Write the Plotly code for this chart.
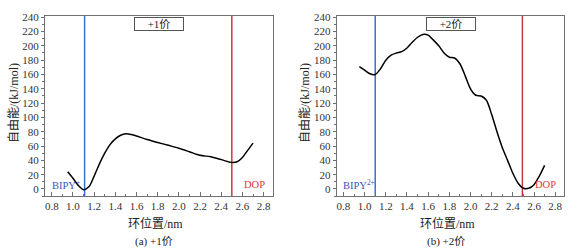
import plotly.graph_objects as go

# ---- data ----
pos1 = [0.95, 1.0, 1.05, 1.1, 1.15, 1.2, 1.25, 1.3, 1.35, 1.4, 1.45, 1.5, 1.55, 1.6,
        1.7, 1.8, 1.9, 2.0, 2.1, 2.2, 2.3, 2.4, 2.5, 2.55, 2.6, 2.65, 2.7]
energy1 = [24, 15, 5, -1, 3, 18, 35, 50, 62, 70, 75, 77, 76, 74,
           69, 65, 61, 57, 52, 47, 45, 41, 37, 38, 44, 54, 64]

pos2 = [0.95, 1.0, 1.05, 1.1, 1.15, 1.2, 1.25, 1.3, 1.35, 1.4, 1.45, 1.5, 1.55, 1.6,
        1.65, 1.7, 1.75, 1.8, 1.85, 1.9, 1.95, 2.0, 2.05, 2.1, 2.15, 2.2, 2.25, 2.3,
        2.35, 2.4, 2.45, 2.5, 2.55, 2.6, 2.65, 2.7]
energy2 = [171, 166, 161, 160, 168, 180, 187, 190, 192, 197, 205, 212, 216, 215,
           208, 200, 190, 184, 183, 175, 158, 140, 131, 130, 124, 104, 80, 58,
           40, 22, 8, 1, 1, 6, 18, 33]

bipy_pos = [1.11, 1.10]
dop_pos = [2.50, 2.49]
panel_tags = ["+1价", "+2价"]
captions = ["(a) +1价", "(b) +2价"]
bipy_labels = ["BIPY<sup>+</sup>", "BIPY<sup>2+</sup>"]
dop_label = "DOP"
x_title = "环位置/nm"
y_title = "自由能/(kJ/mol)"
x_ticks = [0.8, 1.0, 1.2, 1.4, 1.6, 1.8, 2.0, 2.2, 2.4, 2.6, 2.8]
y_ticks = [0, 20, 40, 60, 80, 100, 120, 140, 160, 180, 200, 220, 240]

W, H = 582, 252
SERIF = "Liberation Serif, Times New Roman, serif"
CJK = "Liberation Serif, Noto Sans CJK SC, serif"

fig = go.Figure()

domains_x = [[45 / W, 272.7 / W], [336.7 / W, 564.3 / W]]
dom_y = [1 - 195 / H, 1 - 11 / H]

series = [(pos1, energy1), (pos2, energy2)]
for i, (xs, ys) in enumerate(series):
    xa = "x" if i == 0 else "x2"
    ya = "y" if i == 0 else "y2"
    fig.add_trace(go.Scatter(x=[bipy_pos[i], bipy_pos[i]], y=[-10, 242], mode="lines",
                             line=dict(color="#3a6fd8", width=1.5), xaxis=xa, yaxis=ya,
                             showlegend=False, hoverinfo="skip"))
    fig.add_trace(go.Scatter(x=[dop_pos[i], dop_pos[i]], y=[-10, 242], mode="lines",
                             line=dict(color="#c83a3a", width=1.5), xaxis=xa, yaxis=ya,
                             showlegend=False, hoverinfo="skip"))
    fig.add_trace(go.Scatter(x=xs, y=ys, mode="lines", line=dict(color="black", width=1.5,
                             shape="spline", smoothing=0.8), xaxis=xa, yaxis=ya,
                             showlegend=False))

axis_common = dict(showline=True, mirror=True, linecolor="#707070", linewidth=1,
                   showgrid=False, zeroline=False,
                   tickfont=dict(family=SERIF, size=11, color="#333333"))

for i in range(2):
    sfx = "" if i == 0 else "2"
    fig.update_layout(**{
        f"xaxis{sfx}": dict(axis_common, domain=domains_x[i], range=[0.736, 2.886],
                            tickvals=x_ticks, ticktext=[f"{v:.1f}" for v in x_ticks],
                            ticks="inside", ticklen=4, tickcolor="#707070",
                            minor=dict(dtick=0.1, tick0=0.8, ticks="inside", ticklen=2,
                                       tickcolor="#707070"),
                            anchor=f"y{sfx}"),
        f"yaxis{sfx}": dict(axis_common, domain=dom_y, range=[-10, 242],
                            tickvals=y_ticks, ticks="outside", ticklen=3,
                            tickcolor="#707070",
                            minor=dict(dtick=10, tick0=0, ticks="outside", ticklen=2,
                                       tickcolor="#707070"),
                            anchor=f"x{sfx}"),
    })

annotations = []
for i in range(2):
    sfx = "" if i == 0 else "2"
    xd = f"x{sfx} domain"
    yd = f"y{sfx} domain"
    cx = (domains_x[i][0] + domains_x[i][1]) / 2
    annotations.append(dict(x=0.5, y=0.993, xref=xd, yref=yd, xanchor="center", yanchor="top",
                            text=panel_tags[i], showarrow=False, bordercolor="#555555",
                            borderwidth=1, borderpad=0, width=48, height=12,
                            font=dict(family=CJK, size=11, color="#222222")))
    annotations.append(dict(x=0.78, y=6, xref=f"x{sfx}", yref=f"y{sfx}", xanchor="left",
                            yanchor="middle", text=bipy_labels[i], showarrow=False,
                            font=dict(family=SERIF, size=10.5, color="#3a55b8")))
    annotations.append(dict(x=2.71, y=6, xref=f"x{sfx}", yref=f"y{sfx}", xanchor="center",
                            yanchor="middle", text=dop_label, showarrow=False,
                            font=dict(family=SERIF, size=10.5, color="#e03535")))
    annotations.append(dict(x=cx - 0.006, y=1 - 222.5 / H, xref="paper", yref="paper",
                            xanchor="center", yanchor="middle", text=x_title, showarrow=False,
                            font=dict(family=CJK, size=12, color="#222222")))
    annotations.append(dict(x=cx - 0.008, y=1 - 241 / H, xref="paper", yref="paper",
                            xanchor="center", yanchor="middle", text=captions[i], showarrow=False,
                            font=dict(family=CJK, size=11, color="#222222")))
    ytx = 14 if i == 0 else 305
    annotations.append(dict(x=ytx / W, y=1 - 100 / H, xref="paper", yref="paper",
                            xanchor="center", yanchor="middle", text=y_title, textangle=-90,
                            showarrow=False, font=dict(family=CJK, size=12, color="#222222")))

fig.update_layout(width=W, height=H, autosize=False, margin=dict(l=0, r=0, t=0, b=0),
                  paper_bgcolor="white", plot_bgcolor="white", annotations=annotations)

fig.write_html("out.html", config={"displayModeBar": False},
               post_script="document.body.style.margin='0';document.body.style.overflow='hidden';")
